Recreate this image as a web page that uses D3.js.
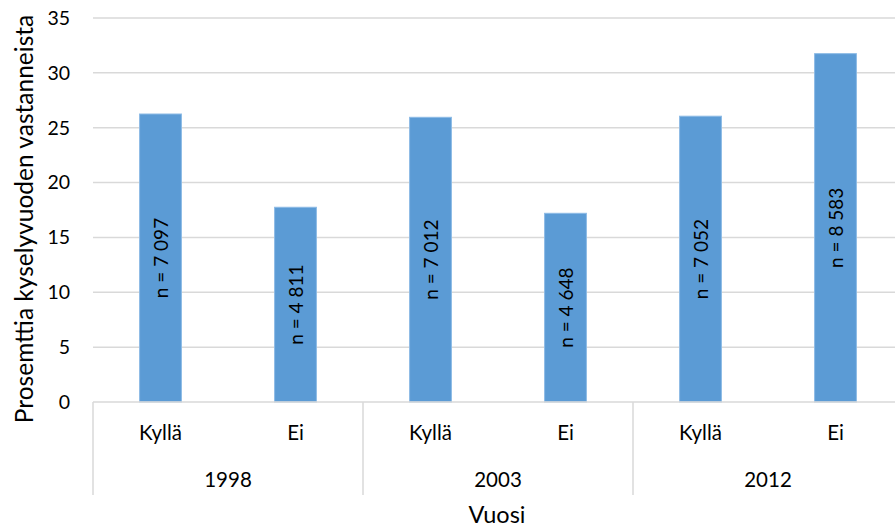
<!DOCTYPE html>
<html>
<head>
<meta charset="utf-8">
<script src="https://cdn.jsdelivr.net/npm/d3@7/dist/d3.min.js"></script>
<style>
  html, body { margin: 0; padding: 0; background: #fff; }
  svg { display: block; }
  text { font-family: Lato, "Open Sans", sans-serif; fill: #000; }
</style>
</head>
<body>
<svg id="chart" width="895" height="527"></svg>
<script>
// Survey years and answer categories
const years = ["1998", "2003", "2012"];
const answers = ["Kyllä", "Ei"];
// Share of respondents (%) per year, in answer order
const values1998 = [26.25, 17.75];
const values2003 = [25.95, 17.2];
const values2012 = [26.05, 31.75];
// Respondent counts shown inside the bars
const counts1998 = ["n = 7 097", "n = 4 811"];
const counts2003 = ["n = 7 012", "n = 4 648"];
const counts2012 = ["n = 7 052", "n = 8 583"];
const yTicks = [0, 5, 10, 15, 20, 25, 30, 35];

const rows = [];
[[values1998, counts1998], [values2003, counts2003], [values2012, counts2012]].forEach(([vals, ns], i) => {
  answers.forEach((a, j) => rows.push({ year: years[i], answer: a, value: vals[j], n: ns[j] }));
});

const svg = d3.select("#chart");
const plotLeft = 93, plotRight = 903, plotTop = 18, plotBottom = 402, axisBottom = 495;

const y = d3.scaleLinear().domain([0, 35]).range([plotBottom, plotTop]);
const xYear = d3.scaleBand().domain(years).range([plotLeft, plotRight]);
const xAns = d3.scaleBand().domain(answers).range([0, xYear.bandwidth()]).paddingInner(0.69).paddingOuter(0.345);

// Horizontal gridlines
svg.append("g").selectAll("line").data(yTicks.filter(t => t > 0)).join("line")
  .attr("x1", plotLeft).attr("x2", 895)
  .attr("y1", d => y(d)).attr("y2", d => y(d))
  .attr("stroke", "#d9d9d9").attr("stroke-width", 1.5);

// Y tick labels
svg.append("g").selectAll("text").data(yTicks).join("text")
  .attr("x", 70).attr("y", d => y(d)).attr("dy", "0.35em")
  .attr("text-anchor", "end").style("font-size", "19.5px")
  .text(d => d);

// Bars
const bars = svg.append("g").selectAll("g").data(rows).join("g")
  .attr("transform", d => `translate(${xYear(d.year) + xAns(d.answer)},0)`);
bars.append("rect")
  .attr("x", 0).attr("width", xAns.bandwidth())
  .attr("y", d => y(d.value)).attr("height", d => y(0) - y(d.value))
  .attr("fill", "#5b9bd5").attr("stroke", "#8dbbe6").attr("stroke-width", 1);

// Count labels, rotated, centred in each bar
bars.append("text")
  .attr("transform", d => `translate(${xAns.bandwidth() / 2 + 1},${(y(d.value) + y(0)) / 2}) rotate(-90)`)
  .attr("text-anchor", "middle").attr("dy", "0.35em")
  .style("font-size", "19px")
  .text(d => d.n);

// Category axis: baseline and group separators
svg.append("line").attr("x1", plotLeft).attr("x2", 895).attr("y1", plotBottom).attr("y2", plotBottom)
  .attr("stroke", "#d9d9d9").attr("stroke-width", 1.5);
svg.append("g").selectAll("line").data(years).join("line")
  .attr("x1", d => xYear(d)).attr("x2", d => xYear(d))
  .attr("y1", plotBottom).attr("y2", axisBottom)
  .attr("stroke", "#d9d9d9").attr("stroke-width", 1.5);

// Answer labels
svg.append("g").selectAll("text").data(rows).join("text")
  .attr("x", d => xYear(d.year) + xAns(d.answer) + xAns.bandwidth() / 2)
  .attr("y", 440).attr("text-anchor", "middle").style("font-size", "20.5px")
  .text(d => d.answer);

// Year labels
svg.append("g").selectAll("text").data(years).join("text")
  .attr("x", d => xYear(d) + xYear.bandwidth() / 2)
  .attr("y", 487).attr("text-anchor", "middle").style("font-size", "20.5px")
  .text(d => d);

// Axis titles
svg.append("text").attr("x", 497).attr("y", 523).attr("text-anchor", "middle")
  .style("font-size", "23.5px").text("Vuosi");
svg.append("text").attr("transform", "translate(33,219) rotate(-90)")
  .attr("text-anchor", "middle").style("font-size", "24.5px")
  .text("Prosemttia kyselyvuoden vastanneista");
</script>
</body>
</html>
